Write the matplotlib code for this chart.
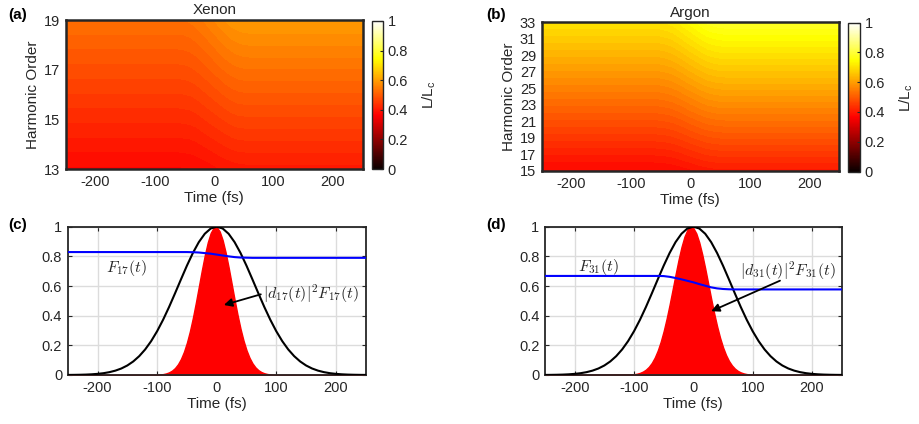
import numpy as np
import matplotlib
matplotlib.use("Agg")
import matplotlib.pyplot as plt
from matplotlib.cm import ScalarMappable
from matplotlib.colors import Normalize

plt.rcParams['font.family'] = ['Liberation Sans', 'DejaVu Sans']
plt.rcParams['mathtext.fontset'] = 'cm'
plt.rcParams['axes.unicode_minus'] = False
TXT = '#262626'

# ---------------- heat-map data: L/Lc versus time and harmonic order ----------------
map_time = [-250, -60, -50, -40, -30, -20, -10, 0, 10, 20, 30, 40, 50, 60, 250]

xe_orders = [13, 15, 17, 19]
xe_ratio = [
    [0.372, 0.372, 0.373, 0.374, 0.376, 0.379, 0.382, 0.386, 0.390, 0.393, 0.396, 0.398, 0.399, 0.400, 0.400],
    [0.425, 0.425, 0.426, 0.427, 0.430, 0.435, 0.440, 0.445, 0.450, 0.455, 0.460, 0.463, 0.464, 0.465, 0.465],
    [0.478, 0.478, 0.479, 0.481, 0.485, 0.491, 0.497, 0.504, 0.511, 0.518, 0.523, 0.527, 0.529, 0.530, 0.530],
    [0.530, 0.530, 0.531, 0.534, 0.539, 0.546, 0.554, 0.563, 0.571, 0.579, 0.587, 0.591, 0.594, 0.595, 0.595],
]

ar_orders = [15, 21, 27, 33]
ar_ratio = [
    [0.370, 0.370, 0.371, 0.372, 0.374, 0.377, 0.381, 0.385, 0.389, 0.393, 0.396, 0.398, 0.399, 0.400, 0.400],
    [0.480, 0.480, 0.481, 0.483, 0.486, 0.491, 0.497, 0.504, 0.510, 0.516, 0.521, 0.524, 0.526, 0.527, 0.527],
    [0.590, 0.590, 0.591, 0.594, 0.598, 0.605, 0.613, 0.622, 0.630, 0.638, 0.645, 0.649, 0.652, 0.653, 0.653],
    [0.700, 0.700, 0.702, 0.705, 0.710, 0.719, 0.730, 0.740, 0.750, 0.761, 0.770, 0.775, 0.778, 0.780, 0.780],
]

# ---------------- line-plot data ----------------
time = np.arange(-250, 251, 10)
envelope = [0.0005, 0.0009, 0.0016, 0.0027, 0.0046, 0.0076, 0.0122, 0.0192, 0.0294, 0.0439,
            0.0641, 0.0914, 0.1271, 0.1724, 0.2283, 0.2950, 0.3720, 0.4578, 0.5499, 0.6444,
            0.7370, 0.8226, 0.8960, 0.9524, 0.9879, 1.0000, 0.9879, 0.9524, 0.8960, 0.8226,
            0.7370, 0.6444, 0.5499, 0.4578, 0.3720, 0.2950, 0.2283, 0.1724, 0.1271, 0.0914,
            0.0641, 0.0439, 0.0294, 0.0192, 0.0122, 0.0076, 0.0046, 0.0027, 0.0016, 0.0009,
            0.0005]

F17 = [0.829] * 20 + [0.829, 0.828, 0.826, 0.822, 0.818, 0.812, 0.806, 0.800, 0.795, 0.792,
                      0.791] + [0.790] * 20
F31 = [0.668] * 19 + [0.668, 0.667, 0.662, 0.654, 0.645, 0.635, 0.625, 0.613, 0.602, 0.591,
                      0.584, 0.580, 0.578] + [0.577] * 19

emit_time = [-250] + list(range(-100, 101, 5)) + [250]
emit17 = [0.0, 0.0017, 0.0033, 0.0060, 0.0105, 0.0179, 0.0295, 0.0470, 0.0725, 0.1082, 0.1561,
          0.2180, 0.2945, 0.3849, 0.4868, 0.5955, 0.7048, 0.8072, 0.8943, 0.9586, 0.9941,
          0.9974, 0.9681, 0.9092, 0.8261, 0.7261, 0.6175, 0.5081, 0.4045, 0.3115, 0.2321,
          0.1673, 0.1167, 0.0787, 0.0514, 0.0325, 0.0198, 0.0117, 0.0067, 0.0037, 0.0020,
          0.0010, 0.0]
emit31 = [0.0, 0.0050, 0.0086, 0.0143, 0.0231, 0.0362, 0.0552, 0.0818, 0.1179, 0.1650, 0.2244,
          0.2965, 0.3807, 0.4749, 0.5757, 0.6781, 0.7762, 0.8632, 0.9329, 0.9795, 0.9994,
          0.9908, 0.9545, 0.8935, 0.8127, 0.7183, 0.6168, 0.5147, 0.4173, 0.3288, 0.2517,
          0.1872, 0.1353, 0.0950, 0.0649, 0.0430, 0.0277, 0.0174, 0.0106, 0.0062, 0.0036,
          0.0020, 0.0]

time_ticks = [-200, -100, 0, 100, 200]

W, H = 919, 424
fig = plt.figure(figsize=(W / 100, H / 100), dpi=100)


def rect(left, top, right, bottom):
    return [left / W, 1 - bottom / H, (right - left) / W, (bottom - top) / H]


def style_axes(ax):
    for s in ax.spines.values():
        s.set_color(TXT)
        s.set_linewidth(1.3)
    ax.tick_params(direction='in', length=3, width=0.8, colors=TXT, labelsize=10.5,
                   top=True, right=True, pad=4)


def heatmap(r_ax, r_cb, orders, ratio, yticks, title, tag, tagx):
    ax = fig.add_axes(rect(*r_ax))
    T, Q = np.meshgrid(map_time, orders)
    cs = ax.contourf(T, Q, np.array(ratio), levels=np.linspace(0, 1, 65), cmap='hot',
                     vmin=0, vmax=1)
    cs.set_edgecolor('face')
    cs.set_linewidth(0.4)
    ax.set_xlim(-250, 250)
    ax.set_ylim(orders[0], orders[-1])
    ax.set_xticks(time_ticks)
    ax.set_yticks(yticks)
    style_axes(ax)
    ax.tick_params(length=0)
    for s in ax.spines.values():
        s.set_linewidth(1.8)
    ax.set_xlabel('Time (fs)', fontsize=11, color=TXT, labelpad=2)
    ax.set_ylabel('Harmonic Order', fontsize=11, color=TXT, labelpad=3)
    ax.set_title(title, fontsize=11, color=TXT, pad=4)
    fig.text(tagx / W, 1 - 15 / H, tag, fontsize=11, fontweight='bold', color='black',
             va='center')

    cax = fig.add_axes(rect(*r_cb))
    sm = ScalarMappable(norm=Normalize(0, 1), cmap='hot')
    cb = fig.colorbar(sm, cax=cax, ticks=[0, 0.2, 0.4, 0.6, 0.8, 1])
    cb.ax.set_yticklabels(['0', '0.2', '0.4', '0.6', '0.8', '1'])
    cb.outline.set_edgecolor(TXT)
    cb.outline.set_linewidth(1.0)
    cb.ax.tick_params(direction='in', length=2.5, width=0.8, colors=TXT, labelsize=10.5)
    cb.set_label('L/L$_\\mathregular{c}$', fontsize=11, color=TXT, labelpad=9)
    return ax


heatmap((65.7, 20, 362.7, 169), (372, 21, 383, 169), xe_orders, xe_ratio,
        [13, 15, 17, 19], 'Xenon', '(a)', 8)
heatmap((541.7, 22.3, 839, 171), (848.3, 22.7, 860, 171.5), ar_orders, ar_ratio,
        list(range(15, 34, 2)), 'Argon', '(b)', 486)


def lineplot(r_ax, F, emit, tag, tagx, f_label, f_xy, d_label, d_xy, arrow_from, arrow_to):
    ax = fig.add_axes(rect(*r_ax))
    ax.set_axisbelow(True)
    ax.grid(True, color='#dcdcdc', linewidth=1.0)
    ax.fill_between(emit_time, 0, emit, color='red', linewidth=1.0, edgecolor='red',
                    zorder=2)
    ax.plot(time, envelope, color='black', linewidth=1.5, zorder=3)
    ax.plot(time, F, color='blue', linewidth=1.5, zorder=3)
    ax.set_xlim(-250, 250)
    ax.set_ylim(0, 1)
    ax.set_xticks(time_ticks)
    ax.set_yticks([0, 0.2, 0.4, 0.6, 0.8, 1])
    ax.set_yticklabels(['0', '0.2', '0.4', '0.6', '0.8', '1'])
    style_axes(ax)
    ax.set_xlabel('Time (fs)', fontsize=11, color=TXT, labelpad=2)
    ax.text(f_xy[0], f_xy[1], f_label, fontsize=11.5, color=TXT, ha='center', va='center',
            zorder=5)
    ax.text(d_xy[0], d_xy[1], d_label, fontsize=11.5, color=TXT, ha='left', va='center',
            zorder=5)
    ax.annotate('', xy=arrow_to, xytext=arrow_from,
                arrowprops=dict(arrowstyle='-|>', color='black', lw=1.3,
                                mutation_scale=12, shrinkA=0, shrinkB=0), zorder=5)
    fig.text(tagx / W, 1 - 225 / H, tag, fontsize=11, fontweight='bold', color='black',
             va='center')
    return ax


lineplot((67.7, 226.7, 365.7, 375), F17, emit17, '(c)', 8,
         r'$F_{17}(t)$', (-152, 0.72),
         r'$|d_{17}(t)|^2F_{17}(t)$', (78, 0.545),
         (74, 0.544), (12, 0.472))
lineplot((545, 226.7, 841.7, 375), F31, emit31, '(d)', 486,
         r'$F_{31}(t)$', (-160, 0.73),
         r'$|d_{31}(t)|^2F_{31}(t)$', (78, 0.70),
         (146, 0.636), (30, 0.43))

fig.savefig('out.png', dpi=100)
